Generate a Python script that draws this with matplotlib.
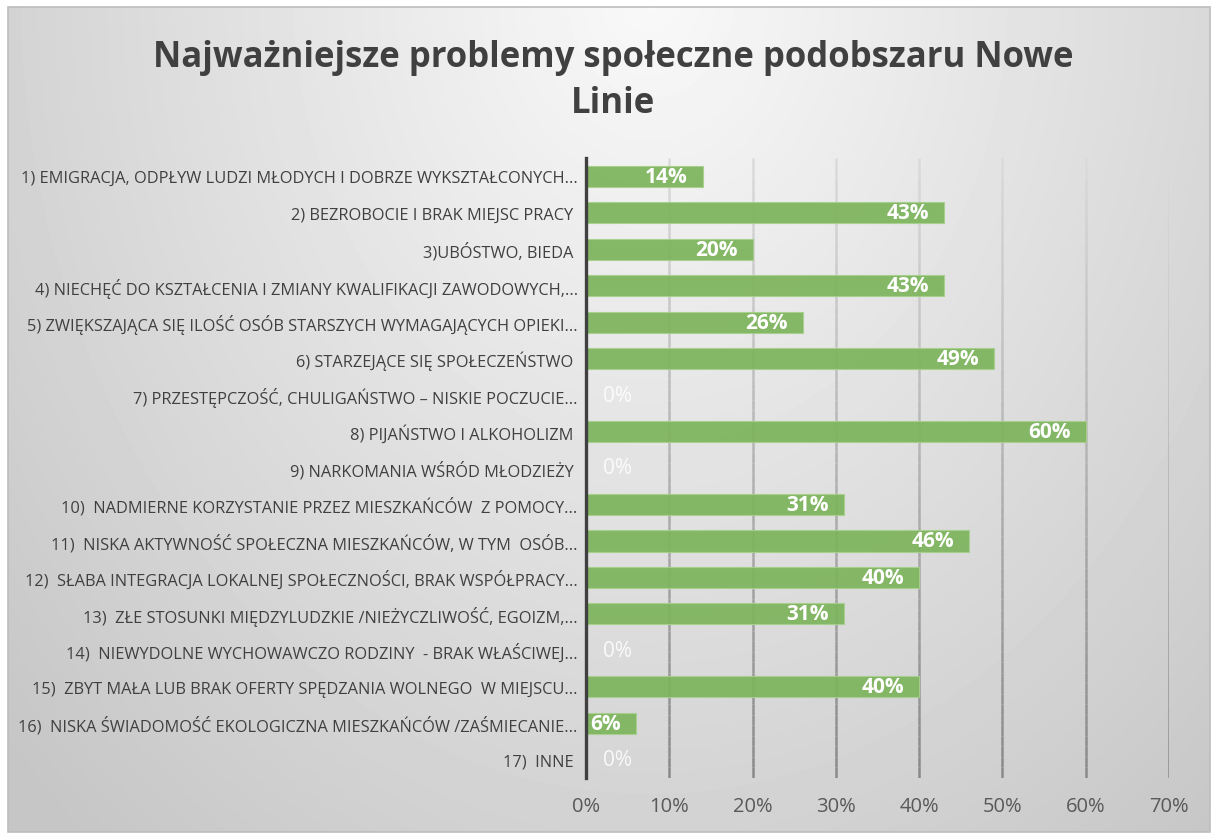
import numpy as np
import matplotlib
matplotlib.use("Agg")
import matplotlib.pyplot as plt
from matplotlib.collections import LineCollection
from matplotlib.patches import Rectangle

# chart data
title = "Najważniejsze problemy społeczne podobszaru Nowe\nLinie"
categories = [
    "1) EMIGRACJA, ODPŁYW LUDZI MŁODYCH I DOBRZE WYKSZTAŁCONYCH...",
    "2) BEZROBOCIE I BRAK MIEJSC PRACY ",
    "3)UBÓSTWO, BIEDA ",
    "4) NIECHĘĆ DO KSZTAŁCENIA I ZMIANY KWALIFIKACJI ZAWODOWYCH,...",
    "5) ZWIĘKSZAJĄCA SIĘ ILOŚĆ OSÓB STARSZYCH WYMAGAJĄCYCH OPIEKI...",
    "6) STARZEJĄCE SIĘ SPOŁECZEŃSTWO ",
    "7) PRZESTĘPCZOŚĆ, CHULIGAŃSTWO – NISKIE POCZUCIE...",
    "8) PIJAŃSTWO I ALKOHOLIZM ",
    "9) NARKOMANIA WŚRÓD MŁODZIEŻY ",
    "10)  NADMIERNE KORZYSTANIE PRZEZ MIESZKAŃCÓW  Z POMOCY...",
    "11)  NISKA AKTYWNOŚĆ SPOŁECZNA MIESZKAŃCÓW, W TYM  OSÓB...",
    "12)  SŁABA INTEGRACJA LOKALNEJ SPOŁECZNOŚCI, BRAK WSPÓŁPRACY...",
    "13)  ZŁE STOSUNKI MIĘDZYLUDZKIE /NIEŻYCZLIWOŚĆ, EGOIZM,...",
    "14)  NIEWYDOLNE WYCHOWAWCZO RODZINY  - BRAK WŁAŚCIWEJ...",
    "15)  ZBYT MAŁA LUB BRAK OFERTY SPĘDZANIA WOLNEGO  W MIEJSCU...",
    "16)  NISKA ŚWIADOMOŚĆ EKOLOGICZNA MIESZKAŃCÓW /ZAŚMIECANIE...",
    "17)  INNE ",
]
values = [0.14, 0.43, 0.20, 0.43, 0.26, 0.49, 0.00, 0.60, 0.00,
          0.31, 0.46, 0.40, 0.31, 0.00, 0.40, 0.06, 0.00]
x_ticks = [0.0, 0.1, 0.2, 0.3, 0.4, 0.5, 0.6, 0.7]

W, H = 1214, 837
plt.rcParams["font.family"] = ["Open Sans", "DejaVu Sans"]

fig = plt.figure(figsize=(W / 100, H / 100), dpi=100)
fig.patch.set_facecolor("white")

# background panel with a soft radial gradient
bg = fig.add_axes([0, 0, 1, 1], zorder=0)
bg.set_xlim(0, W)
bg.set_ylim(H, 0)
bg.axis("off")
gx, gy = np.meshgrid(np.arange(8, 1210), np.arange(8, 833))
d = np.sqrt(((gx - 650) / 650.0) ** 2 + ((gy + 10) / 830.0) ** 2)
shade = np.clip(249 - 38 * d, 198, 255) / 255.0
bg.imshow(shade, cmap="gray", vmin=0, vmax=1, extent=(8, 1210, 833, 8),
          interpolation="bilinear", aspect="auto")
bg.add_patch(Rectangle((8, 8), 1202, 825, fill=False, edgecolor="#bdbdbd", lw=1.2))

fig.text(0.505, 0.952, title, ha="center", va="top", fontsize=25,
         fontweight="bold", color="#404040", linespacing=1.35)

# plot area
ax = fig.add_axes([586 / W, 1 - 779 / H, (1169 - 586) / W, (779 - 159) / H], zorder=1)
ax.patch.set_alpha(0)
ypos = np.arange(len(categories))
ax.set_xlim(0, 0.7)
ax.set_ylim(len(categories) - 0.5, -0.5)

# vertical gridlines, lighter at the top, darker at the bottom
segs, cols = [], []
ys = np.linspace(-0.5, len(categories) - 0.5, 60)
for xt in x_ticks[1:]:
    for k in range(len(ys) - 1):
        segs.append([(xt, ys[k]), (xt, ys[k + 1])])
        t = k / (len(ys) - 2)
        g = (218 - 80 * t) / 255.0
        cols.append((g, g, g))
ax.add_collection(LineCollection(segs, colors=cols, linewidths=1.8, zorder=1))

ax.barh(ypos, values, height=0.58, color="#7db45c", edgecolor="#a8d08d",
        linewidth=0.8, alpha=0.93, zorder=2)

for i, v in enumerate(values):
    lbl = f"{v * 100:.0f}%"
    if v > 0:
        ax.annotate(lbl, (v, i), xytext=(-11, 0), textcoords="offset points",
                    ha="right", va="center", color="white", fontsize=15,
                    fontweight="bold", zorder=3)
    else:
        ax.annotate(lbl, (0, i), xytext=(12, 0), textcoords="offset points",
                    ha="left", va="center", color="white", fontsize=15,
                    alpha=0.85, zorder=3)

ax.set_yticks(ypos)
ax.set_yticklabels(categories, fontsize=11.8, color="#404040")
ax.set_xticks(x_ticks)
ax.set_xticklabels([f"{t * 100:.0f}%" for t in x_ticks], fontsize=14.5, color="#595959")
ax.tick_params(axis="both", length=0)
ax.tick_params(axis="x", pad=13)
ax.tick_params(axis="y", pad=6)

for s in ["top", "right", "bottom"]:
    ax.spines[s].set_visible(False)
ax.spines["left"].set_color("#404040")
ax.spines["left"].set_linewidth(2.4)
ax.spines["left"].set_zorder(4)

fig.savefig("out.png", dpi=100)
